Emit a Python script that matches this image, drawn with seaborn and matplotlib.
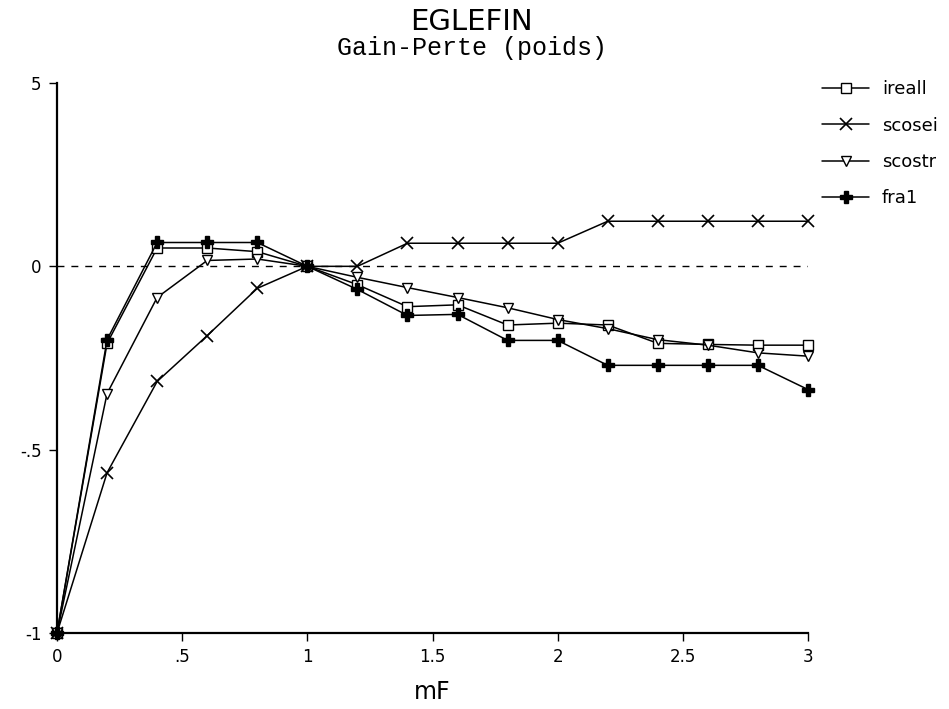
import matplotlib
matplotlib.use("Agg")
import matplotlib.pyplot as plt
import seaborn as sns
import pandas as pd

mF = [0.0, 0.2, 0.4, 0.6, 0.8, 1.0, 1.2, 1.4, 1.6, 1.8, 2.0, 2.2, 2.4, 2.6, 2.8, 3.0]
ireall = [-1.0, -0.21, 0.05, 0.05, 0.04, 0.0, -0.05, -0.11, -0.105, -0.16, -0.155, -0.16, -0.21, -0.213, -0.215, -0.215]
scosei = [-1.0, -0.563, -0.314, -0.189, -0.06, 0.0, 0.0, 0.063, 0.063, 0.063, 0.063, 0.123, 0.123, 0.123, 0.123, 0.123]
scostr = [-1.0, -0.347, -0.085, 0.016, 0.02, 0.0, -0.03, -0.058, -0.085, -0.113, -0.145, -0.17, -0.2, -0.215, -0.236, -0.245]
fra1 = [-1.0, -0.2, 0.065, 0.065, 0.065, 0.0, -0.063, -0.134, -0.131, -0.202, -0.202, -0.27, -0.27, -0.27, -0.27, -0.336]

series_names = ["ireall", "scosei", "scostr", "fra1"]
series_values = [ireall, scosei, scostr, fra1]
x_ticks = [0, 0.5, 1, 1.5, 2, 2.5, 3]
x_ticklabels = ["0", ".5", "1", "1.5", "2", "2.5", "3"]
y_ticks = [0.5, 0, -0.5, -1]
y_ticklabels = ["5", "0", "-.5", "-1"]

sns.set_style("white")
plt.rcParams["font.family"] = ["DejaVu Sans"]
plt.rcParams["text.color"] = "black"
plt.rcParams["axes.labelcolor"] = "black"
plt.rcParams["xtick.color"] = "black"
plt.rcParams["ytick.color"] = "black"

fig = plt.figure(figsize=(9.49, 7.09), dpi=100)
ax = fig.add_axes([57 / 949, 1 - 633 / 709, (808 - 57) / 949, (633 - 83) / 709])

styles = {
    "ireall": dict(marker="s", mfc="white", ms=7),
    "scosei": dict(marker="x", mfc="black", ms=8, mew=1.2),
    "scostr": dict(marker="v", mfc="white", ms=7),
    "fra1": dict(marker="P", mfc="black", ms=8),
}

for name, vals in zip(series_names, series_values):
    df = pd.DataFrame({"mF": mF, "val": vals})
    st = styles[name]
    sns.lineplot(data=df, x="mF", y="val", ax=ax, color="black", linewidth=1.1,
                 marker=st["marker"], markerfacecolor=st["mfc"], markeredgecolor="black",
                 markersize=st["ms"], markeredgewidth=st.get("mew", 1.0),
                 label=name, clip_on=False, zorder=3)

ax.plot([0, 3], [0, 0], linestyle=(0, (5, 5)), color="black", linewidth=1.0, zorder=2)

ax.set_xlim(0, 3)
ax.set_ylim(-1, 0.5)
ax.set_xticks(x_ticks)
ax.set_xticklabels(x_ticklabels)
ax.set_yticks(y_ticks)
ax.set_yticklabels(y_ticklabels)
ax.tick_params(axis="both", direction="out", length=6, width=1.0, colors="black",
               labelsize=12, pad=5, left=True, bottom=True)
for s in ["top", "right"]:
    ax.spines[s].set_visible(False)
for s in ["left", "bottom"]:
    ax.spines[s].set_color("black")
    ax.spines[s].set_linewidth(1.6)

ax.set_xlabel("mF", fontsize=17, labelpad=10)
ax.set_ylabel("")

fig.text(0.497, 1 - 30 / 709, "EGLEFIN", ha="center", va="baseline", fontsize=21,
         color="black")
fig.text(0.497, 1 - 55 / 709, "Gain-Perte (poids)", ha="center", va="baseline",
         fontsize=18, color="black", family=["Liberation Mono", "DejaVu Sans Mono"])

handles, labels = ax.get_legend_handles_labels()
leg = ax.legend(handles, labels, loc="upper left", bbox_to_anchor=(815 / 949, 1 - 73 / 709),
                bbox_transform=fig.transFigure, frameon=False, fontsize=13,
                handlelength=2.6, handletextpad=0.7, labelspacing=1.02, borderaxespad=0)
for t in leg.get_texts():
    t.set_color("black")

fig.savefig("out.png", dpi=100)
